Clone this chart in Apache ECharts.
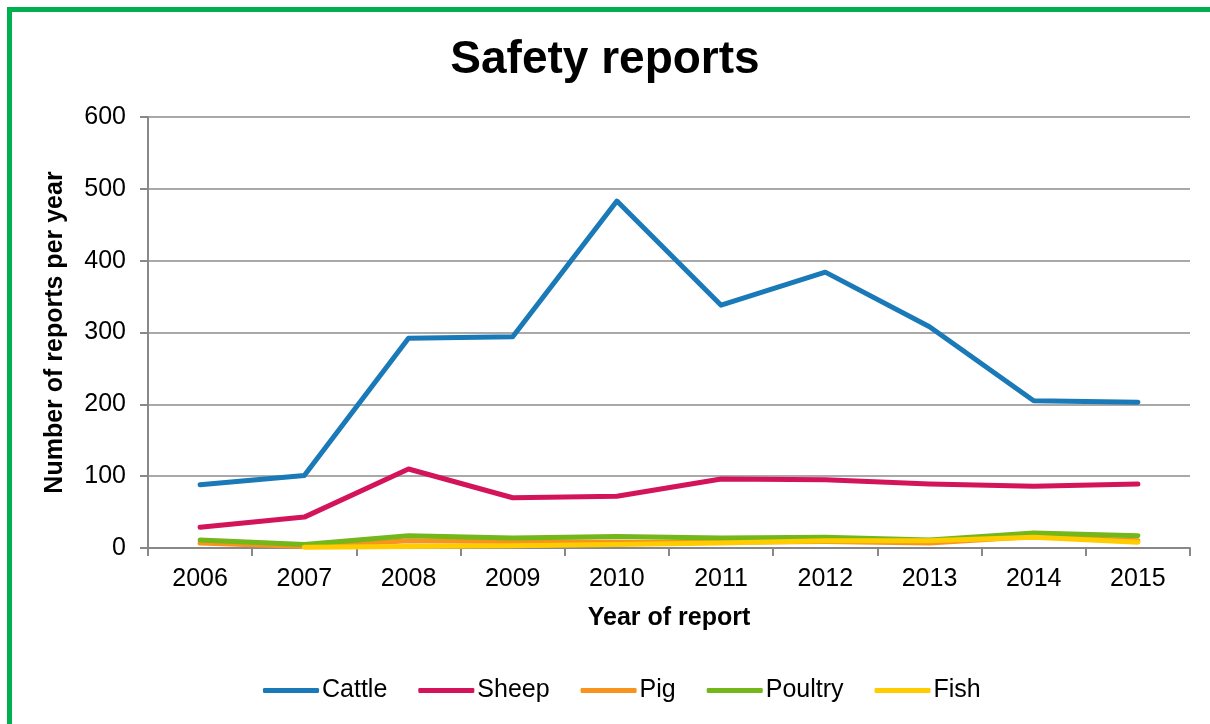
<!DOCTYPE html>
<html>
<head>
<meta charset="utf-8">
<script src="https://cdn.jsdelivr.net/npm/echarts@6/dist/echarts.min.js"></script>
<style>
  html, body { margin: 0; padding: 0; background: #fff; }
  #frame { position: absolute; left: 7px; top: 7px; width: 1220px; height: 740px; border: 5px solid #00b050; box-sizing: border-box; }
  #chart { position: absolute; left: 0; top: 0; width: 1210px; height: 724px; }
</style>
</head>
<body>
<div id="frame"></div>
<div id="chart"></div>
<script>
'use strict';
var years = ['2006', '2007', '2008', '2009', '2010', '2011', '2012', '2013', '2014', '2015'];
var cattle = [88, 101, 292, 294, 483, 338, 384, 308, 205, 203];
var sheep = [29, 43, 110, 70, 72, 96, 95, 89, 86, 89];
var pig = [7, 2, 10, 9, 8, 8, 9, 7, 16, 10];
var poultry = [11, 5, 17, 14, 16, 14, 15, 11, 21, 17];
var fish = [null, 1, 2, 3, 5, 7, 10, 10, 15, 8];

var names = ['Cattle', 'Sheep', 'Pig', 'Poultry', 'Fish'];
var colors = ['#1a7ab8', '#d4145a', '#f7941d', '#74b71b', '#ffcc00'];
var seriesData = [cattle, sheep, pig, poultry, fish];
var zOrder = [10, 9, 5, 6, 7];

var chart = echarts.init(document.getElementById('chart'));
var series = [];
for (var i = 0; i < names.length; i++) {
  series.push({
    name: names[i],
    type: 'line',
    data: seriesData[i],
    symbol: 'none',
    lineStyle: { width: 5, color: colors[i], cap: 'round', join: 'round' },
    itemStyle: { color: colors[i] },
    z: zOrder[i]
  });
}

var font = 'Liberation Sans, Arial, sans-serif';
chart.setOption({
  animation: false,
  textStyle: { fontFamily: font },
  title: {
    text: 'Safety reports',
    left: 'center',
    top: 32,
    textStyle: { fontSize: 46, fontWeight: 'bold', color: '#000', fontFamily: font }
  },
  legend: {
    top: 673,
    left: 258,
    itemWidth: 56,
    itemHeight: 5,
    itemGap: 31,
    icon: 'roundRect',
    textStyle: { fontSize: 25, color: '#000', padding: [0, 0, 0, -2] },
    data: names
  },
  grid: { left: 148, right: 20, top: 117, bottom: 176 },
  xAxis: {
    type: 'category',
    data: years,
    boundaryGap: true,
    name: 'Year of report',
    nameLocation: 'middle',
    nameGap: 58,
    nameTextStyle: { fontSize: 25, fontWeight: 'bold', color: '#000' },
    axisLine: { lineStyle: { color: '#888', width: 2 } },
    axisTick: { show: true, alignWithLabel: false, length: 8, lineStyle: { color: '#888', width: 2 } },
    axisLabel: { fontSize: 25, color: '#000', margin: 19 }
  },
  yAxis: {
    type: 'value',
    min: 0,
    max: 600,
    interval: 100,
    name: 'Number of reports per year',
    nameLocation: 'middle',
    nameGap: 80,
    nameTextStyle: { fontSize: 25, fontWeight: 'bold', color: '#000' },
    axisLine: { show: true, lineStyle: { color: '#888', width: 2 } },
    axisTick: { show: true, length: 8, lineStyle: { color: '#888', width: 2 } },
    axisLabel: { fontSize: 25, color: '#000', margin: 22 },
    splitLine: { lineStyle: { color: '#8c8c8c', width: 1.5 } }
  },
  series: series
});
</script>
</body>
</html>
